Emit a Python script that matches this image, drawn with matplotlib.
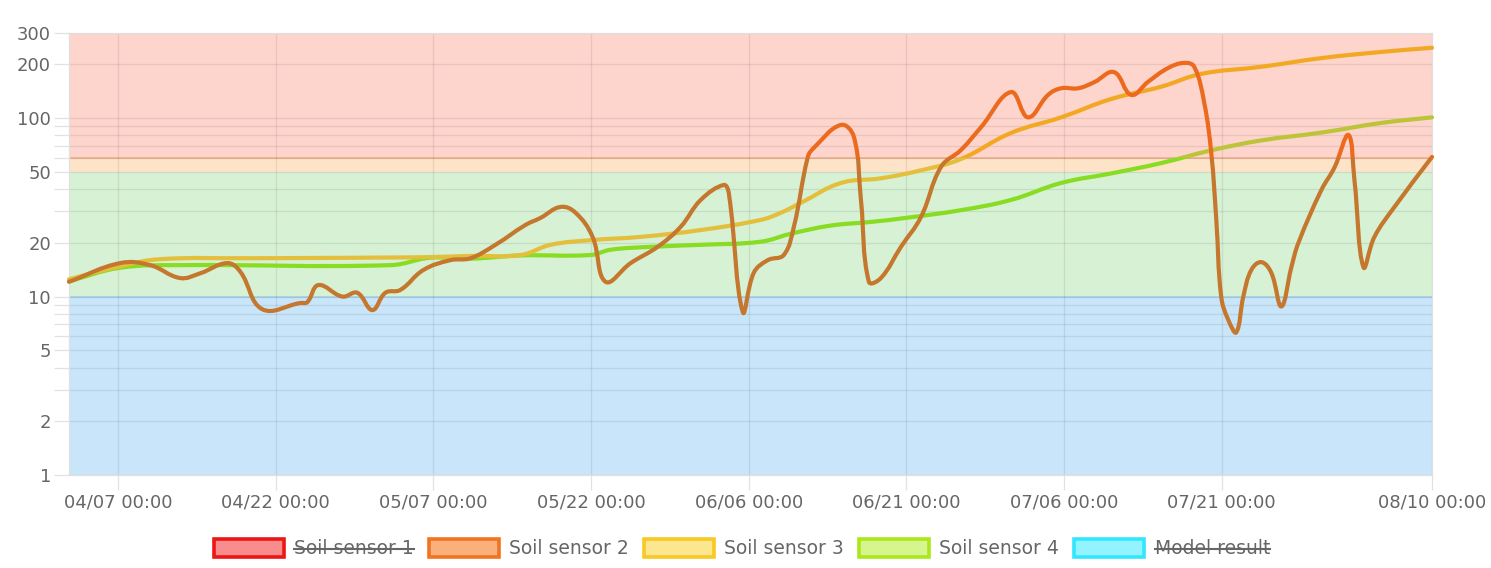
import numpy as np
import matplotlib
matplotlib.use("Agg")
import matplotlib.pyplot as plt
from matplotlib.path import Path
from matplotlib.patches import PathPatch, Rectangle, Patch
from matplotlib.lines import Line2D
from matplotlib.ticker import FixedLocator, FixedFormatter
from datetime import datetime

plt.rcParams['font.family'] = ['DejaVu Sans']

# ---------------- data (x = days after 04/07 00:00) ----------------
s2_day = [-4.67, 0.19, 3.05, 5.90, 7.81, 10.38, 11.62, 13.71, 17.33, 18.0, 19.05, 21.33,
          22.76, 24.19, 25.43, 26.86, 29.05, 31.62, 33.52, 35.90, 38.76, 40.19, 42.10,
          43.52, 45.14, 46.38, 48.76, 51.33, 53.52, 55.43, 57.62, 58.10, 59.43, 60.48,
          61.81, 63.33, 64.29, 65.62, 66.19, 68.76, 70.0, 70.67, 71.43, 72.57, 74.48,
          76.38, 78.29, 80.19, 82.10, 84.95, 86.57, 88.48, 89.71, 91.33, 92.86, 94.76,
          96.38, 98.0, 99.90, 101.43, 102.38, 103.33, 104.0, 104.48, 104.95, 105.62,
          106.38, 107.05, 107.81, 108.76, 109.71, 110.67, 111.62, 112.29, 114.48,
          115.71, 117.05, 117.62, 118.48, 119.52, 121.43, 125.0]
s2_val = [12.1, 15.4, 15.0, 12.7, 13.5, 15.4, 13.8, 8.5, 9.2, 9.3, 11.6, 10.0,
          10.5, 8.4, 10.5, 10.9, 14.1, 16.0, 16.4, 19.5, 25.2, 27.6, 31.8,
          29.5, 21.6, 12.1, 15.4, 19.0, 24.6, 34.8, 42.2, 38.0, 8.2, 13.6,
          16.0, 17.1, 24.6, 60.6, 68.1, 91.6, 78.5, 34.8, 12.1, 12.7, 19.0,
          27.9, 53.3, 66.3, 89.0, 140, 101, 135, 147, 147, 159, 181,
          135, 160, 191, 204, 194, 122, 63.8, 26.9, 9.95, 7.4,
          6.3, 10.0, 14.1, 15.6, 13.6, 8.8, 14.6, 20.0, 39.6,
          52.7, 80.5, 45.0, 14.6, 21.6, 31.8, 60.6]

s3_day = [-4.67, 0.19, 4.0, 12.6, 28.76, 33.52, 38.29, 41.14, 44.95, 49.71, 55.43, 61.14,
          63.05, 64.95, 68.76, 72.57, 76.38, 80.19, 84.95, 89.71, 94.48, 99.24, 103.05,
          108.76, 114.48, 120.19, 125.0]
s3_val = [12.5, 14.8, 16.2, 16.4, 16.6, 16.9, 17.1, 19.5, 20.7, 21.6, 23.6, 26.9,
          29.5, 33.5, 43.3, 46.0, 51.0, 59.0, 82.6, 101, 128, 150, 177,
          194, 217, 235, 248]

s4_day = [-4.67, 0.19, 5.90, 25.90, 29.71, 33.52, 38.29, 44.95, 46.86, 50.67, 55.43, 61.14,
          64.0, 67.81, 71.62, 74.95, 80.19, 84.95, 89.71, 94.48, 99.24, 104.0, 108.76,
          114.48, 120.19, 125.0]
s4_val = [12.2, 14.5, 15.0, 15.0, 16.5, 16.3, 17.0, 17.1, 18.3, 19.0, 19.5, 20.3,
          22.5, 25.0, 26.2, 27.6, 30.5, 34.8, 43.3, 49.0, 56.0, 66.0, 75.0,
          83.0, 94.0, 101]

x_tick_labels = ['04/07 00:00', '04/22 00:00', '05/07 00:00', '05/22 00:00', '06/06 00:00',
                 '06/21 00:00', '07/06 00:00', '07/21 00:00', '08/10 00:00']
y_ticks = [1, 2, 3, 4, 5, 6, 7, 8, 9, 10, 20, 30, 40, 50, 60, 70, 80, 90, 100, 200, 300]
y_labeled = [1, 2, 5, 10, 20, 50, 100, 200, 300]

bands = [(1, 10, '#c9e5fa'), (10, 50, '#d6f1d4'), (50, 60, '#fde4c9'), (60, 300, '#fdd5cc')]

legend_labels = ['Soil sensor 1', 'Soil sensor 2', 'Soil sensor 3', 'Soil sensor 4', 'Model result']
legend_hidden = [True, False, False, False, True]
legend_face = ['#f98c8c', '#fbb07c', '#fde690', '#d7f58e', '#93f3ff']
legend_edge = ['#ee1515', '#f07422', '#f8c824', '#aae81c', '#33e6ff']

# ---------------- figure ----------------
W, H = 1491, 568
fig = plt.figure(figsize=(W / 100, H / 100), dpi=100)
ax = fig.add_axes([69 / W, 93 / H, (1432 - 69) / W, (475 - 33) / H])
ax.set_yscale('log')
base = datetime(2024, 4, 7)
tick_days = [(datetime.strptime('2024/' + s.split()[0], '%Y/%m/%d') - base).days for s in x_tick_labels]

x0, x1 = s2_day[0], tick_days[-1]
ax.set_xlim(x0, x1)
ax.set_ylim(1, 300)

for lo, hi, c in bands:
    ax.axhspan(lo, hi, color=c, zorder=0.2, lw=0)
ax.axhline(60, color='#f3b596', lw=1.3, zorder=0.3)
ax.axhline(10, color='#a9d5ea', lw=1.3, zorder=0.3)

ax.yaxis.set_major_locator(FixedLocator(y_ticks))
ax.yaxis.set_major_formatter(FixedFormatter([str(v) if v in y_labeled else '' for v in y_ticks]))
ax.yaxis.set_minor_locator(FixedLocator([]))
ax.set_xticks(tick_days)
ax.set_xticklabels(x_tick_labels)
ax.tick_params(axis='both', length=11, width=0.9, color='#e2e2e2', labelcolor='#666666',
               labelsize=13, pad=2)
ax.grid(True, color='black', alpha=0.08, lw=0.9)
for sp in ax.spines.values():
    sp.set_color('#e0e0e0')
    sp.set_linewidth(0.9)

SX, SY = 10.5, 178.4


def spline_path(days, vals, t=0.4):
    P = np.column_stack([np.asarray(days, float) * SX, np.log10(vals) * SY])
    n = len(P)
    cpa = np.zeros_like(P)
    cpb = np.zeros_like(P)
    for i in range(n):
        prev = P[i - 1] if i > 0 else P[i]
        nxt = P[i + 1] if i < n - 1 else P[i]
        d01 = np.hypot(*(P[i] - prev))
        d12 = np.hypot(*(nxt - P[i]))
        tot = d01 + d12
        s01 = d01 / tot if tot else 0
        s12 = d12 / tot if tot else 0
        cpb[i] = P[i] - t * s01 * (nxt - prev)
        cpa[i] = P[i] + t * s12 * (nxt - prev)
    verts = [P[0]]
    codes = [Path.MOVETO]
    for i in range(1, n):
        verts += [cpa[i - 1], cpb[i], P[i]]
        codes += [Path.CURVE4] * 3
    V = np.array(verts)
    V[:, 0] /= SX
    V[:, 1] = 10 ** (V[:, 1] / SY)
    return Path(V, codes)


def draw(days, vals, c_hi, c_lo, z):
    path = spline_path(days, vals)
    for col, lo, hi in [(c_hi, 60, 1000), (c_lo, 0.5, 60)]:
        pp = PathPatch(path, fill=False, edgecolor=col, lw=3.0, zorder=z,
                       transform=ax.transData, capstyle='round', joinstyle='round')
        ax.add_patch(pp)
        clip = Rectangle((x0 - 10, lo), (x1 - x0) + 20, hi - lo, transform=ax.transData)
        pp.set_clip_path(clip)


draw(s4_day, s4_val, '#bcc43a', '#88dc22', 3)
draw(s3_day, s3_val, '#f3a824', '#e4bf3c', 4)
draw(s2_day, s2_val, '#ec6a1e', '#c5772e', 5)

handles = [Patch(facecolor=f, edgecolor=e, lw=2.6) for f, e in zip(legend_face, legend_edge)]
leg = fig.legend(handles, legend_labels, loc='center', bbox_to_anchor=(0.4977, 0.034), ncol=5,
                 frameon=False, fontsize=13.5, handlelength=3.73, handleheight=1.07,
                 handletextpad=0.55, columnspacing=0.8, labelcolor='#666666')

fig.canvas.draw()
r = fig.canvas.get_renderer()
for txt, hid in zip(leg.get_texts(), legend_hidden):
    if hid:
        bb = txt.get_window_extent(r)
        ym = (bb.y0 + bb.y1) / 2 / H
        fig.add_artist(Line2D([bb.x0 / W, bb.x1 / W], [ym, ym], color='#666666', lw=1.5,
                              transform=fig.transFigure))

fig.savefig('out.png', dpi=100, facecolor='white')
